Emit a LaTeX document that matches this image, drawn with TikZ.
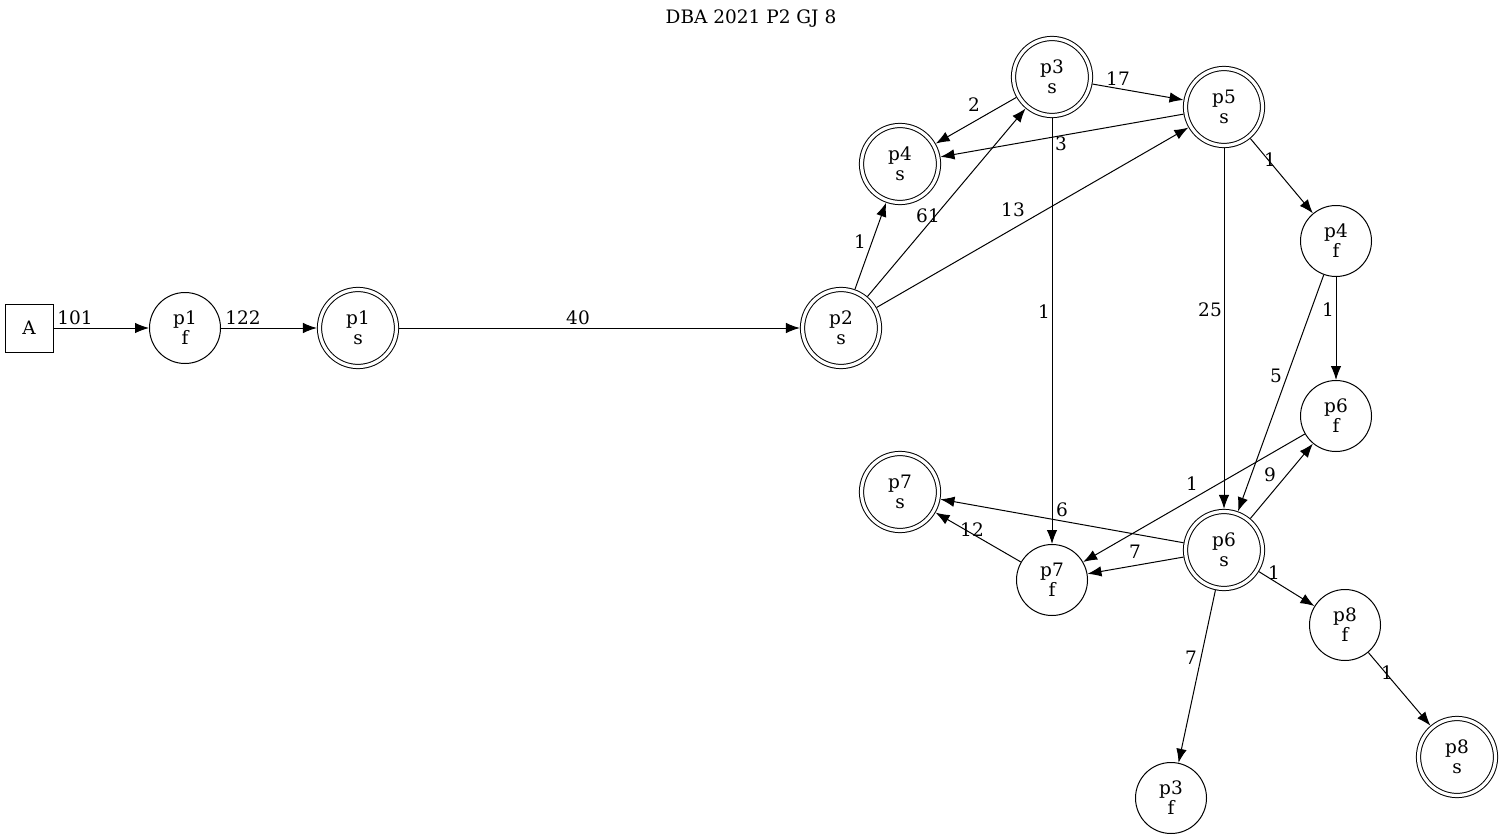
\documentclass[tikz,border=0pt]{standalone}
\usepackage{fontspec}
\setmainfont{DejaVu Serif}
\usetikzlibrary{arrows.meta}

\begin{document}
\begin{tikzpicture}[x=1pt,y=-1pt,>={Latex[length=14pt,width=10.5pt]},
  every node/.style={font=\fontsize{18.5}{20}\selectfont},
  fst/.style={draw,circle,line width=1pt,minimum size=71pt,inner sep=0pt,align=center},
  sst/.style={draw,circle,line width=1pt,double,double distance=3.2pt,minimum size=77pt,inner sep=0pt,align=center,outer sep=2.6pt},
  start/.style={draw,rectangle,line width=1pt,minimum size=48pt,inner sep=0pt},
  edge/.style={->,line width=1pt},
  lbl/.style={inner sep=0pt}]

% frame
\useasboundingbox (0,0) rectangle (1504,840);

% title
\node (title) at (751,19) {DBA 2021 P2 GJ 8};

% states
\node[start] (A) at (29,328) {A};
\node[fst] (p1f) at (185,328) {p1\\f};
\node[sst] (p1s) at (358,328) {p1\\s};
\node[sst] (p2s) at (841,328) {p2\\s};
\node[sst] (p3s) at (1052,77) {p3\\s};
\node[sst] (p4s) at (900,164) {p4\\s};
\node[sst] (p5s) at (1224,107) {p5\\s};
\node[fst] (p4f) at (1336,241) {p4\\f};
\node[fst] (p6f) at (1336,416) {p6\\f};
\node[sst] (p7s) at (900,492) {p7\\s};
\node[sst] (p6s) at (1224,550) {p6\\s};
\node[fst] (p7f) at (1052,580) {p7\\f};
\node[fst] (p8f) at (1345,625) {p8\\f};
\node[sst] (p8s) at (1457,757) {p8\\s};
\node[fst] (p3f) at (1171,798) {p3\\f};

% transitions
\foreach \a/\b/\t/\lx/\ly in {A/p1f/101/75/318, p1f/p1s/122/243/318,
  p1s/p2s/40/578/318, p2s/p4s/1/860/242, p2s/p3s/61/928/216,
  p2s/p5s/13/1013/210, p3s/p4s/2/974/105, p3s/p5s/17/1118/79,
  p3s/p7f/1/1044/312, p5s/p4s/3/1061/144, p5s/p4f/1/1270/160,
  p5s/p6s/25/1210/310, p4f/p6f/1/1328/310, p4f/p6s/5/1276/376,
  p6s/p6f/9/1270/475, p6f/p7f/1/1192/484, p6s/p7s/6/1062/510,
  p6s/p7f/7/1135/552, p7f/p7s/12/972/530, p6s/p8f/1/1274/573,
  p6s/p3f/7/1191/658, p8f/p8s/1/1387/673}
  \draw[edge] (\a) -- (\b) node[lbl] at (\lx,\ly) {\t};

\end{tikzpicture}
\end{document}
